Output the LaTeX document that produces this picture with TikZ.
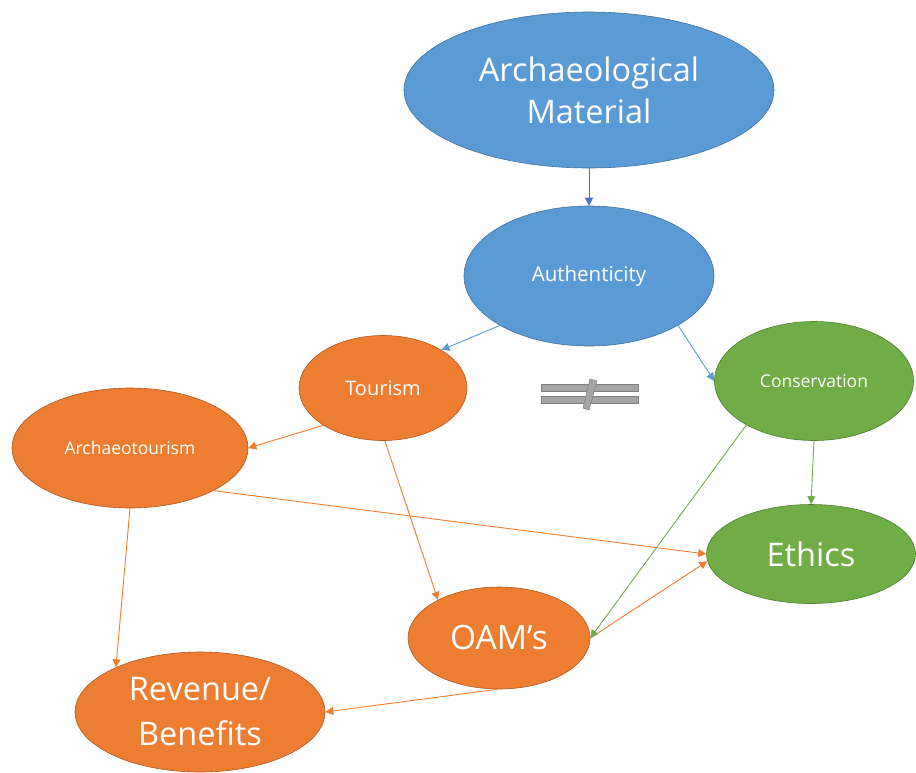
\documentclass[tikz,border=0pt]{standalone}
\usepackage{fontspec}
\setmainfont{Open Sans}
\usetikzlibrary{arrows.meta,shapes.geometric}
\definecolor{cblue}{HTML}{5B9BD5}
\definecolor{cblueline}{HTML}{41719C}
\definecolor{cdarkblue}{HTML}{4472C4}
\definecolor{corange}{HTML}{ED7D31}
\definecolor{corangeline}{HTML}{AE5A21}
\definecolor{cgreen}{HTML}{70AD47}
\definecolor{cgreenline}{HTML}{507E32}
\definecolor{cgray}{HTML}{A5A5A5}
\definecolor{cgrayline}{HTML}{7F7F7F}
\tikzset{
  oval/.style args={#1/#2}{ellipse, minimum width=#1pt, minimum height=#2pt, inner sep=0pt, text=white, align=center},
  bluebox/.style={fill=cblue, draw=cblueline, line width=0.6pt},
  orangebox/.style={fill=corange, draw=corangeline, line width=0.6pt},
  greenbox/.style={fill=cgreen, draw=cgreenline, line width=0.6pt},
  link/.style={line width=0.9pt, -{Triangle[length=8pt,width=8pt]}},
}
\begin{document}
\begin{tikzpicture}[x=1pt,y=-1pt]
\useasboundingbox (0,0) rectangle (916,772);
% nodes
\node[oval=370/156, bluebox, font=\fontsize{32.5}{42}\selectfont] (am) at (589,90) {Archaeological\\Material};
\node[oval=250/140, bluebox, font=\fontsize{20.5}{24}\selectfont] (auth) at (589,276) {Authenticity};
\node[oval=168/105, orangebox, font=\fontsize{20}{24}\selectfont] (tour) at (383,388) {Tourism};
\node[oval=199/119, greenbox, font=\fontsize{17.5}{21}\selectfont] (cons) at (814,381) {Conservation};
\node[oval=236/120, orangebox, font=\fontsize{17.5}{21}\selectfont] (arch) at (130,448) {Archaeotourism};
\node[oval=209/99, greenbox, font=\fontsize{32.5}{40}\selectfont] (eth) at (811,554) {Ethics};
\node[oval=182/102, orangebox, font=\fontsize{33.5}{40}\selectfont] (oam) at (499,638) {OAM’s};
\node[oval=250/120, orangebox, font=\fontsize{32.5}{45}\selectfont] (rev) at (200,712) {Revenue/\\Benefits};
% not-equal sign
\fill[cgray, draw=cgrayline, line width=0.5pt] (541,384) rectangle (638,391);
\fill[cgray, draw=cgrayline, line width=0.5pt] (541,396) rectangle (638,403);
\fill[cgray, draw=cgrayline, line width=0.5pt] (590,379) -- (597,381) -- (589,410) -- (583,408) -- cycle;
% connectors
\draw[link, cdarkblue] (am) -- (auth);
\draw[link, cblue] (auth.209) -- (tour.33);
\draw[link, cblue] (auth.-29) -- (cons.west);
\draw[link, corange] (tour.212) -- (arch.east);
\draw[link, corange] (tour.-88) -- (oam.148);
\draw[link, corange] (arch.-27) -- (eth.west);
\draw[link, corange] (arch.-90) -- (rev.152);
\draw[link, corange] (oam.east) -- (eth.184);
\draw[link, cgreen] (cons.213) -- (oam.east);
\draw[link, cgreen] (cons.south) -- (eth.north);
\draw[link, corange] (oam.-92) -- (rev.east);
\end{tikzpicture}
\end{document}
